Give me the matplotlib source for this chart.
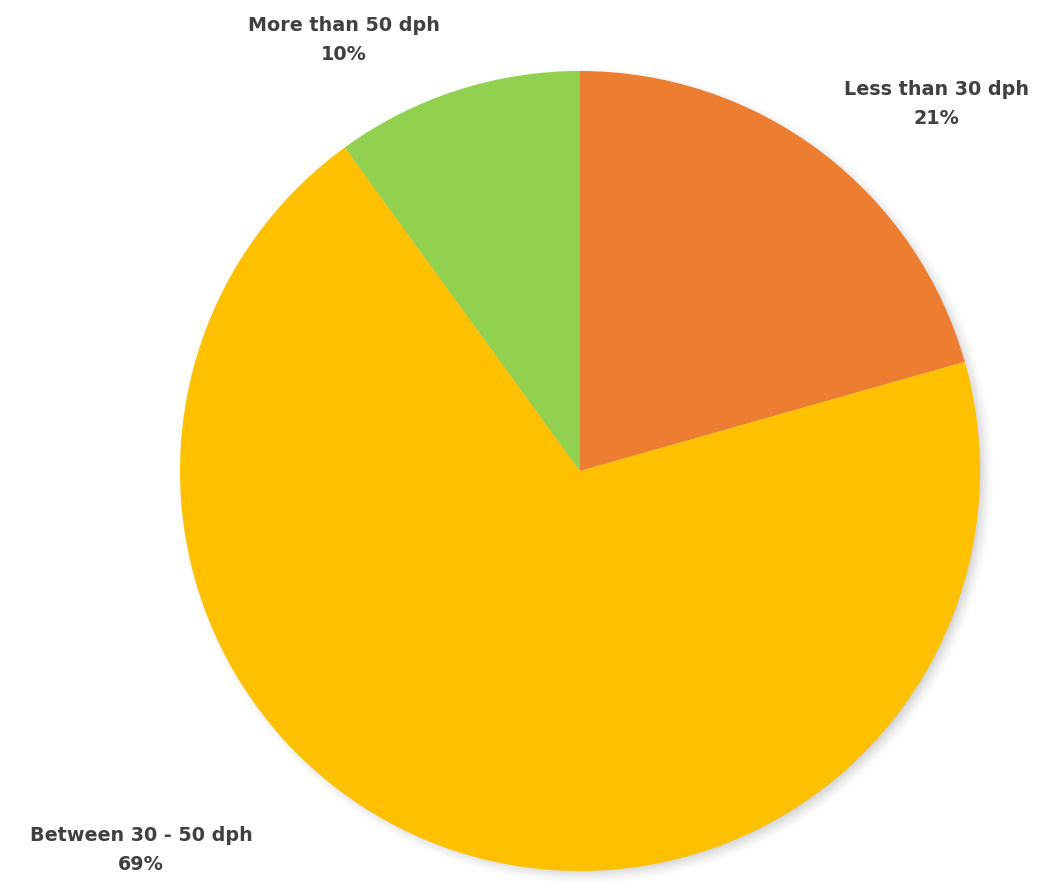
import numpy as np
import matplotlib
matplotlib.use("Agg")
import matplotlib.pyplot as plt

categories = ["Less than 30 dph", "Between 30 - 50 dph", "More than 50 dph"]
shares = [20.6, 69.4, 10.0]
colors = ["#ED7D31", "#FFC000", "#92D050"]

W, H = 1058, 883
fig = plt.figure(figsize=(W / 100, H / 100), dpi=100)
ax = fig.add_axes([0, 0, 1, 1])
ax.set_xlim(0, W)
ax.set_ylim(H, 0)
ax.set_aspect("equal")
ax.axis("off")

cx, cy, R = 580, 471, 400

# soft shadow
yy, xx = np.mgrid[0:H, 0:W]
d = np.hypot(xx - (cx + 5), yy - (cy + 4))
a = np.clip((R + 9 - d) / 18, 0, 1) ** 1.5 * 0.38
img = np.zeros((H, W, 4))
img[..., :3] = 0.45
img[..., 3] = a
ax.imshow(img, extent=(0, W, H, 0), zorder=0, interpolation="bilinear")

# y axis is inverted, so counterclockwise in data = clockwise on screen
ax.pie(shares, colors=colors, startangle=-90, counterclock=True,
       center=(cx, cy), radius=R, frame=True,
       wedgeprops=dict(linewidth=0, zorder=1))
ax.set_xlim(0, W)
ax.set_ylim(H, 0)
ax.axis("off")

label_pos = [(936, 104), (141, 850), (344, 40)]
for name, v, (x, y) in zip(categories, shares, label_pos):
    ax.text(x, y, f"{name}\n{v:.0f}%", ha="center", va="center",
            fontsize=13.8, fontweight="bold", color="#404040",
            family="DejaVu Sans", linespacing=1.65, zorder=3)

fig.savefig("out.png", dpi=100)
